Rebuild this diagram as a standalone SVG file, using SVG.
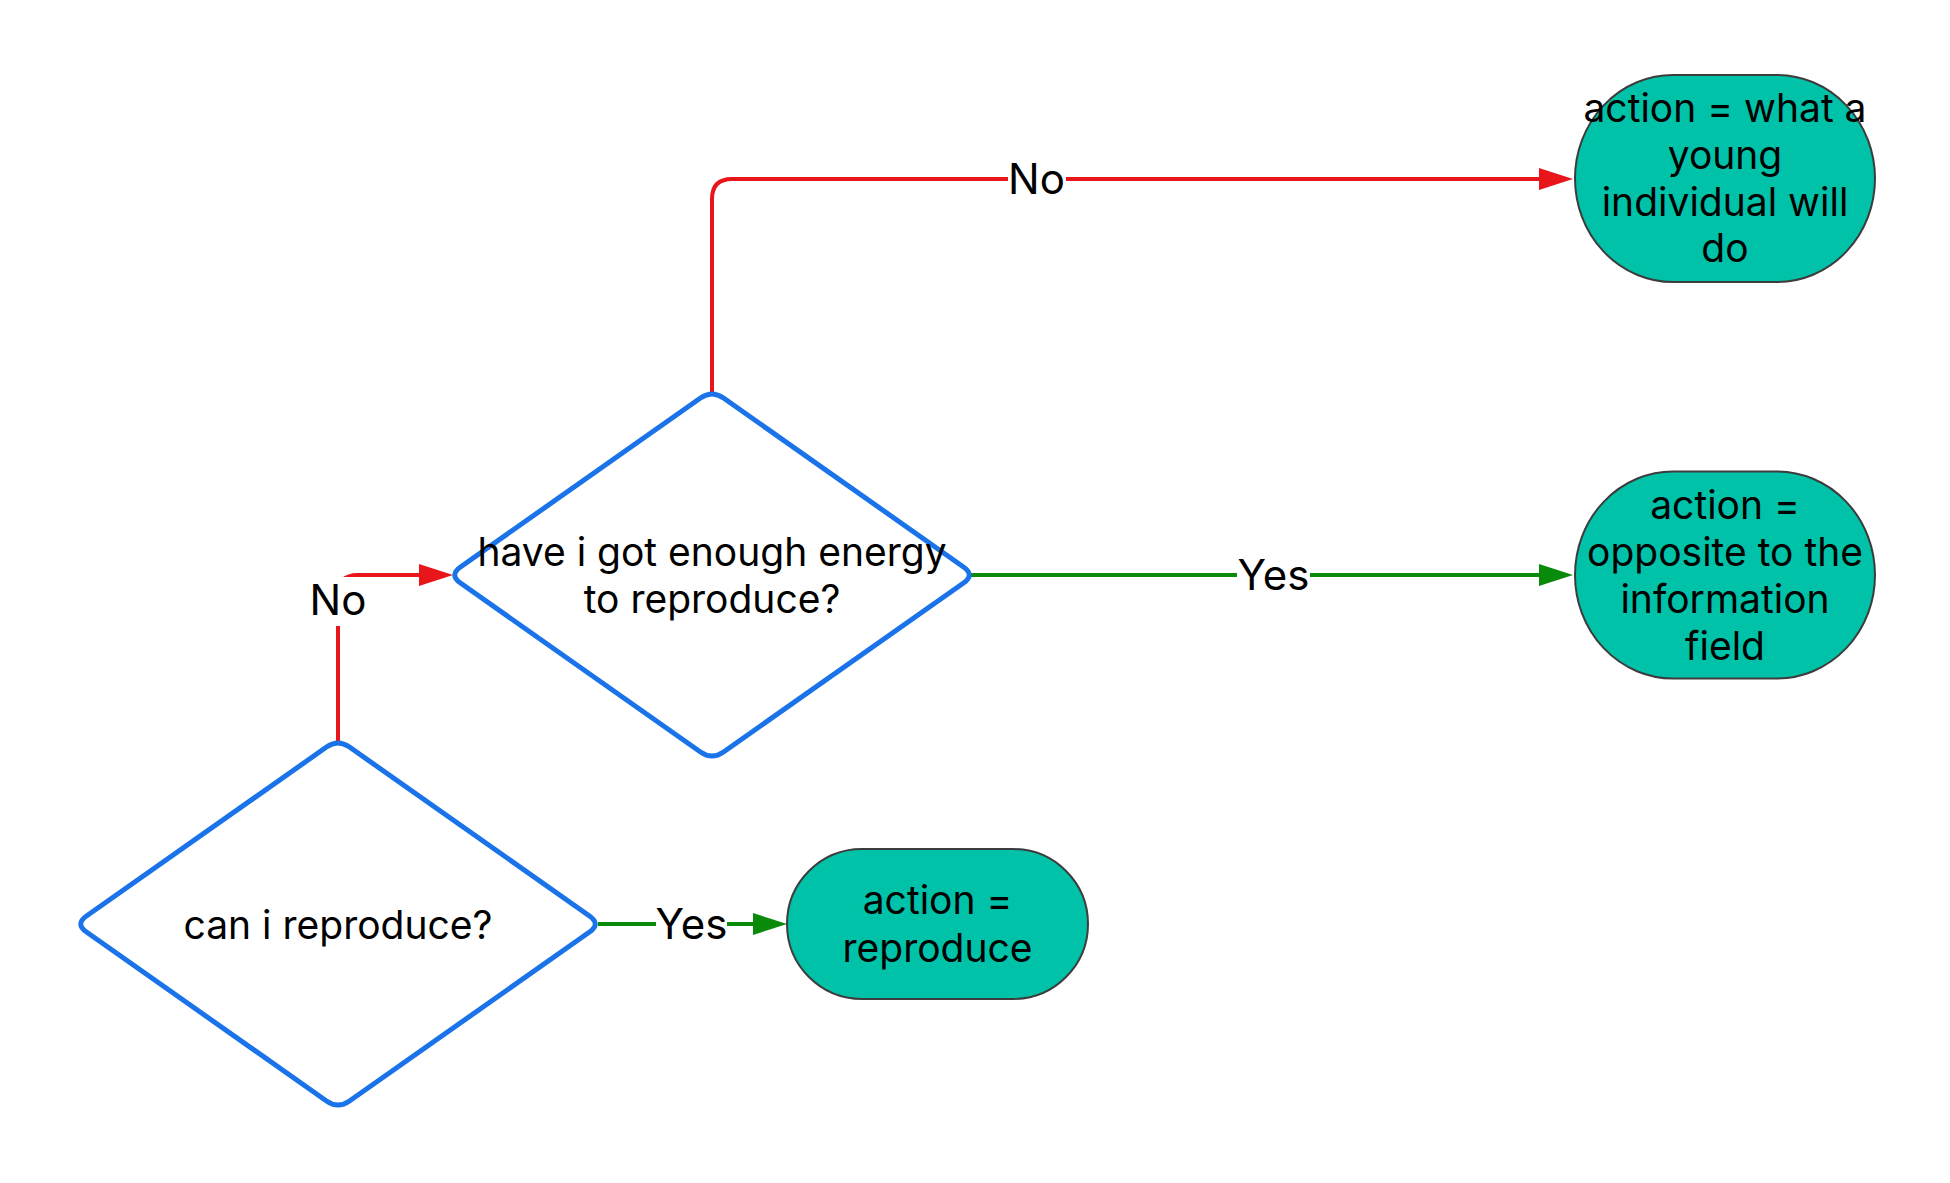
<svg xmlns="http://www.w3.org/2000/svg" width="1950" height="1183" viewBox="0 0 1950 1183">
  <style>
    .decision { fill: #ffffff; stroke: #1a73e8; stroke-width: 5; stroke-linejoin: round; }
    .terminal { fill: #00c2a8; stroke: #3c3c3c; stroke-width: 2; }
    .ntext { font-family: Inter, "Noto Sans", "Liberation Sans", sans-serif; font-size: 39px; fill: #000000; text-anchor: middle; }
    .ltext { font-family: Inter, "Noto Sans", "Liberation Sans", sans-serif; font-size: 42px; fill: #000000; text-anchor: middle; }
    .no { fill: none; stroke: #e8151b; stroke-width: 4; }
    .yes { fill: none; stroke: #0a8a0a; stroke-width: 4; }
    .lbg { fill: #ffffff; }
  </style>
  <defs>
    <marker id="arrowRed" viewBox="0 0 34 22" markerUnits="userSpaceOnUse" markerWidth="34" markerHeight="22" refX="0" refY="11" orient="auto">
      <path d="M0,0 L34,11 L0,22 Z" fill="#e8151b"/>
    </marker>
    <marker id="arrowGreen" viewBox="0 0 34 22" markerUnits="userSpaceOnUse" markerWidth="34" markerHeight="22" refX="0" refY="11" orient="auto">
      <path d="M0,0 L34,11 L0,22 Z" fill="#0a8a0a"/>
    </marker>
  </defs>
  <rect x="0" y="0" width="1950" height="1183" fill="#ffffff"/>

  <g id="connectors">
    <g id="edge-canreproduce-no">
      <path class="no" d="M338 742 L338 595 Q338 575 358 575 L419 575" marker-end="url(#arrowRed)"/>
      <rect class="lbg" x="308" y="577" width="59" height="49"/>
      <text class="ltext" x="338" y="615">No</text>
    </g>
    <g id="edge-canreproduce-yes">
      <path class="yes" d="M598 924 L753 924" marker-end="url(#arrowGreen)"/>
      <rect class="lbg" x="656" y="900" width="71" height="48"/>
      <text class="ltext" x="691.5" y="939">Yes</text>
    </g>
    <g id="edge-energy-no">
      <path class="no" d="M712 393 L712 199 Q712 179 732 179 L1539 179" marker-end="url(#arrowRed)"/>
      <rect class="lbg" x="1008" y="155" width="58" height="48"/>
      <text class="ltext" x="1036.5" y="194">No</text>
    </g>
    <g id="edge-energy-yes">
      <path class="yes" d="M971 575 L1539 575" marker-end="url(#arrowGreen)"/>
      <rect class="lbg" x="1237" y="551" width="73" height="48"/>
      <text class="ltext" x="1273.5" y="590">Yes</text>
    </g>
  </g>

  <g id="node-can-reproduce" transform="translate(338 924)">
    <path class="decision" d="M-11.5 -176.95 Q0 -185 11.5 -176.95 L251.5 -8.05 Q263 0 251.5 8.05 L11.5 176.95 Q0 185 -11.5 176.95 L-251.5 8.05 Q-263 0 -251.5 -8.05 Z"/>
    <text class="ntext" x="0" y="15">can i reproduce?</text>
  </g>

  <g id="node-enough-energy" transform="translate(712 575)">
    <path class="decision" d="M-11.5 -176.95 Q0 -185 11.5 -176.95 L251.5 -8.05 Q263 0 251.5 8.05 L11.5 176.95 Q0 185 -11.5 176.95 L-251.5 8.05 Q-263 0 -251.5 -8.05 Z"/>
    <text class="ntext" x="0" y="-9.5">have i got enough energy</text>
    <text class="ntext" x="0" y="37.5">to reproduce?</text>
  </g>

  <g id="node-action-reproduce">
    <rect class="terminal" x="787" y="849" width="301" height="150" rx="75" ry="75"/>
    <text class="ntext" x="937.5" y="914">action =</text>
    <text class="ntext" x="937.5" y="962">reproduce</text>
  </g>

  <g id="node-action-young">
    <rect class="terminal" x="1575" y="75" width="300" height="207" rx="98" ry="103.5"/>
    <text class="ntext" x="1725" y="122">action = what a</text>
    <text class="ntext" x="1725" y="168.5">young</text>
    <text class="ntext" x="1725" y="215.5">individual will</text>
    <text class="ntext" x="1725" y="262">do</text>
  </g>

  <g id="node-action-opposite">
    <rect class="terminal" x="1575" y="471.5" width="300" height="207" rx="98" ry="103.5"/>
    <text class="ntext" x="1725" y="518.5">action =</text>
    <text class="ntext" x="1725" y="565.5">opposite to the</text>
    <text class="ntext" x="1725" y="612.5">information</text>
    <text class="ntext" x="1725" y="659.5">field</text>
  </g>
</svg>
